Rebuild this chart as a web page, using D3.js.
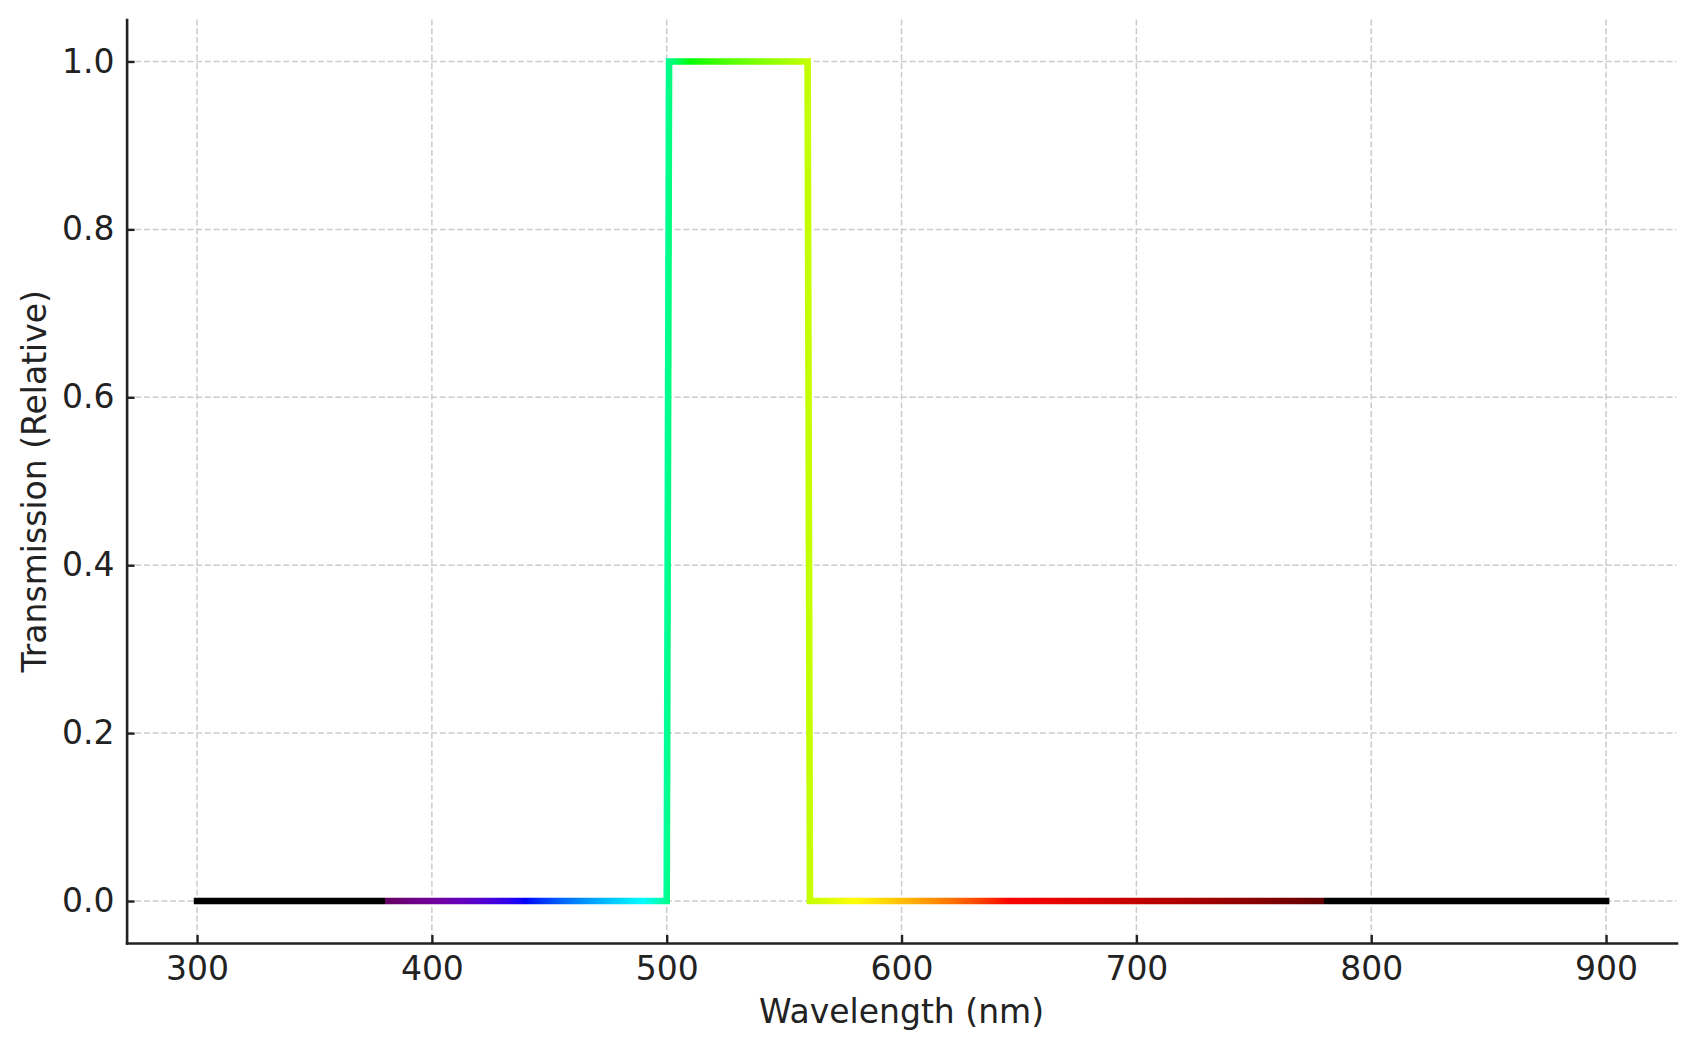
<!DOCTYPE html>
<html>
<head>
<meta charset="utf-8">
<script src="https://cdn.jsdelivr.net/npm/d3@7"></script>
<style>
  html, body { margin: 0; padding: 0; background: #fff; }
  svg { display: block; font-family: 'DejaVu Sans', sans-serif; }
</style>
</head>
<body>
<svg id="chart" width="1697" height="1050"></svg>
<script>
// filter transmission, sampled at the edges of the pass band
var wavelengths = [300, 500, 501, 560, 561, 900]
var transmission = [0, 0, 1, 1, 0, 0]

var xTicks = [300, 400, 500, 600, 700, 800, 900]
var yTicks = [0, 0.2, 0.4, 0.6, 0.8, 1.0]

var width = 1697,
  height = 1050,
  margin = { top: 19.5, right: 20.5, bottom: 107, left: 126.6 },
  ink = '#222222'

var svg = d3.select('#chart')

var x = d3
  .scaleLinear()
  .domain([270, 930])
  .range([margin.left, width - margin.right])
var y = d3
  .scaleLinear()
  .domain([-0.05, 1.05])
  .range([height - margin.bottom, margin.top])

// wavelength -> visible colour (gamma 0.8, dimmed near the ends, black outside 380-780)
function wavelengthColor(nm) {
  var r = 0,
    g = 0,
    b = 0,
    gamma = 0.8,
    att
  if (nm >= 380 && nm < 440) {
    att = 0.3 + (0.7 * (nm - 380)) / 60
    r = Math.pow(((440 - nm) / 60) * att, gamma)
    b = Math.pow(att, gamma)
  } else if (nm >= 440 && nm < 490) {
    g = Math.pow((nm - 440) / 50, gamma)
    b = 1
  } else if (nm >= 490 && nm < 510) {
    g = 1
    b = Math.pow((510 - nm) / 20, gamma)
  } else if (nm >= 510 && nm < 580) {
    r = Math.pow((nm - 510) / 70, gamma)
    g = 1
  } else if (nm >= 580 && nm < 645) {
    r = 1
    g = Math.pow((645 - nm) / 65, gamma)
  } else if (nm >= 645 && nm <= 780) {
    att = 0.3 + (0.7 * (780 - nm)) / 135
    r = Math.pow(att, gamma)
  }
  return d3.rgb(r * 255, g * 255, b * 255).formatHex()
}

var lo = d3.min(wavelengths),
  hi = d3.max(wavelengths)
var stops = []
d3.range(lo, hi + 1, 2).forEach(function(nm) {
  if (nm === 380) stops.push({ nm: nm, color: '#000000' })
  stops.push({ nm: nm, color: wavelengthColor(nm) })
  if (nm === 780) stops.push({ nm: nm, color: '#000000' })
})

var grad = svg
  .append('defs')
  .append('linearGradient')
  .attr('id', 'spectrum')
  .attr('gradientUnits', 'userSpaceOnUse')
  .attr('x1', x(lo))
  .attr('x2', x(hi))
  .attr('y1', 0)
  .attr('y2', 0)
grad
  .selectAll('stop')
  .data(stops)
  .enter()
  .append('stop')
  .attr('offset', function(d) {
    return (d.nm - lo) / (hi - lo)
  })
  .attr('stop-color', function(d) {
    return d.color
  })

// grid
var grid = svg.append('g').attr('class', 'grid')
grid
  .selectAll('line.vx')
  .data(xTicks)
  .enter()
  .append('line')
  .attr('class', 'vx')
  .attr('x1', x)
  .attr('x2', x)
  .attr('y1', y.range()[1])
  .attr('y2', y.range()[0])
grid
  .selectAll('line.hy')
  .data(yTicks)
  .enter()
  .append('line')
  .attr('class', 'hy')
  .attr('x1', x.range()[0])
  .attr('x2', x.range()[1])
  .attr('y1', y)
  .attr('y2', y)
grid
  .selectAll('line')
  .attr('stroke', '#cccccc')
  .attr('stroke-width', 1.5)
  .attr('stroke-dasharray', '6,2.7')

// axes, ticks pointing inward
var xAxis = svg
  .append('g')
  .attr('transform', 'translate(0,' + y.range()[0] + ')')
  .call(
    d3
      .axisBottom(x)
      .tickValues(xTicks)
      .tickFormat(d3.format('d'))
      .tickSizeInner(-8)
      .tickSizeOuter(0)
      .tickPadding(13.5)
  )
var yAxis = svg
  .append('g')
  .attr('transform', 'translate(' + x.range()[0] + ',0)')
  .call(
    d3
      .axisLeft(y)
      .tickValues(yTicks)
      .tickFormat(d3.format('.1f'))
      .tickSizeInner(-8)
      .tickSizeOuter(0)
      .tickPadding(12)
  )
;[xAxis, yAxis].forEach(function(a) {
  a.selectAll('.domain')
    .attr('stroke', ink)
    .attr('stroke-width', 2.6)
    .attr('stroke-linecap', 'square')
  a.selectAll('.tick line')
    .attr('stroke', ink)
    .attr('stroke-width', 2.4)
  a.selectAll('.tick text')
    .attr('fill', ink)
    .style('font-size', '33px')
    .style('font-family', "'DejaVu Sans', sans-serif")
})

// transmission curve
var line = d3
  .line()
  .x(function(d) {
    return x(d[0])
  })
  .y(function(d) {
    return y(d[1])
  })
svg
  .append('path')
  .datum(d3.zip(wavelengths, transmission))
  .attr('d', line)
  .attr('fill', 'none')
  .attr('stroke', 'url(#spectrum)')
  .attr('stroke-width', 6.6)
  .attr('stroke-linejoin', 'miter')
  .attr('stroke-linecap', 'square')

// axis titles
svg
  .append('text')
  .attr('x', (x.range()[0] + x.range()[1]) / 2)
  .attr('y', 1023)
  .attr('text-anchor', 'middle')
  .attr('fill', ink)
  .style('font-size', '33px')
  .text('Wavelength (nm)')
svg
  .append('text')
  .attr('transform', 'translate(46,' + (y.range()[0] + y.range()[1]) / 2 + ') rotate(-90)')
  .attr('text-anchor', 'middle')
  .attr('fill', ink)
  .style('font-size', '33px')
  .text('Transmission (Relative)')
</script>
</body>
</html>
